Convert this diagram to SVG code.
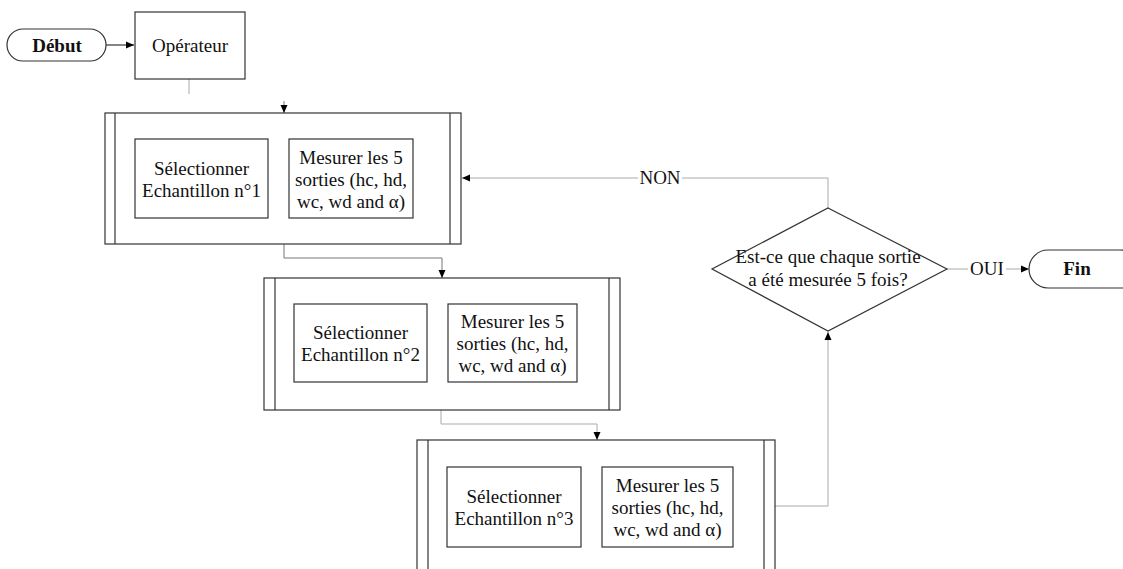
<svg xmlns="http://www.w3.org/2000/svg" width="1123" height="569" viewBox="0 0 1123 569">
<defs>
<marker id="ah" viewBox="0 0 8 8" refX="8" refY="4" markerWidth="8" markerHeight="8" markerUnits="userSpaceOnUse" orient="auto">
<path d="M0,0.5 L8,4 L0,7.5 Z" fill="#000"/>
</marker>
<style>
.box{fill:#fff;stroke:#333;stroke-width:1.2}
.ln{fill:none;stroke:#333;stroke-width:1.2}
.cn{fill:none;stroke:#aaa;stroke-width:1}
.cd{fill:none;stroke:#777;stroke-width:1}
.t{font-family:"Liberation Serif","Times New Roman",serif;font-size:19px;fill:#111;text-anchor:middle}
.b{font-weight:bold}
</style>
</defs>
<rect width="1123" height="569" fill="#fff"/>
<g id="connectors">
<line class="ln" x1="106" y1="45" x2="134" y2="45" marker-end="url(#ah)"/>
<line class="cn" x1="189" y1="79" x2="189" y2="94"/>
<line class="cd" x1="284" y1="101" x2="284" y2="113" marker-end="url(#ah)"/>
<line class="cn" x1="268" y1="179" x2="289" y2="179" marker-end="url(#ah)"/>
<polyline class="cd" points="284,244 284,258 442,258 442,278" marker-end="url(#ah)"/>
<line class="cn" x1="427" y1="344" x2="448" y2="344" marker-end="url(#ah)"/>
<polyline class="cn" points="441,410 441,424 597,424 597,440" marker-end="url(#ah)"/>
<line class="cd" x1="581" y1="507" x2="602" y2="507" marker-end="url(#ah)"/>
<polyline class="cn" points="775,506 828,506 828,332" marker-end="url(#ah)"/>
<polyline class="cn" points="828,208 828,178 682,178"/>
<line class="cn" x1="638" y1="178" x2="462" y2="178" marker-end="url(#ah)"/>
<text class="t" x="660" y="184">NON</text>
<line class="cn" x1="947" y1="269" x2="968" y2="269"/>
<line class="cn" x1="1006" y1="269" x2="1029" y2="269" marker-end="url(#ah)"/>
<text class="t" x="987" y="275">OUI</text>
</g>
<g id="debut">
<rect class="box" x="7" y="29" width="99" height="32" rx="16"/>
<text class="t b" x="57" y="52">Début</text>
</g>
<g id="operateur">
<rect class="box" x="135" y="12" width="110" height="67"/>
<text class="t" x="190" y="52">Opérateur</text>
</g>
<g id="sous-processus-1">
<rect class="box" x="105" y="113" width="356" height="131"/>
<line class="ln" x1="115" y1="113" x2="115" y2="244"/>
<line class="ln" x1="450" y1="113" x2="450" y2="244"/>
</g>
<g id="selectionner-1">
<rect class="box" x="135" y="139" width="133" height="79"/>
<text class="t" x="201.5" y="175">Sélectionner</text>
<text class="t" x="201.5" y="197">Echantillon n°1</text>
</g>
<g id="mesurer-1">
<rect class="box" x="289" y="139" width="124" height="79"/>
<text class="t" x="351" y="164">Mesurer les 5</text>
<text class="t" x="351" y="186">sorties (hc, hd,</text>
<text class="t" x="351" y="208">wc, wd and α)</text>
</g>
<g id="sous-processus-2">
<rect class="box" x="264" y="278" width="356" height="132"/>
<line class="ln" x1="275" y1="278" x2="275" y2="410"/>
<line class="ln" x1="609" y1="278" x2="609" y2="410"/>
</g>
<g id="selectionner-2">
<rect class="box" x="294" y="304" width="133" height="78"/>
<text class="t" x="360.5" y="339">Sélectionner</text>
<text class="t" x="360.5" y="361">Echantillon n°2</text>
</g>
<g id="mesurer-2">
<rect class="box" x="448" y="304" width="129" height="78"/>
<text class="t" x="512.5" y="328">Mesurer les 5</text>
<text class="t" x="512.5" y="350">sorties (hc, hd,</text>
<text class="t" x="512.5" y="372">wc, wd and α)</text>
</g>
<g id="sous-processus-3">
<rect class="box" x="417" y="440" width="358" height="150"/>
<line class="ln" x1="428" y1="440" x2="428" y2="590"/>
<line class="ln" x1="764" y1="440" x2="764" y2="590"/>
</g>
<g id="selectionner-3">
<rect class="box" x="447" y="467" width="134" height="80"/>
<text class="t" x="514" y="503">Sélectionner</text>
<text class="t" x="514" y="525">Echantillon n°3</text>
</g>
<g id="mesurer-3">
<rect class="box" x="602" y="467" width="131" height="80"/>
<text class="t" x="667.5" y="492">Mesurer les 5</text>
<text class="t" x="667.5" y="514">sorties (hc, hd,</text>
<text class="t" x="667.5" y="536">wc, wd and α)</text>
</g>
<g id="decision">
<polygon class="box" points="828,208 947,269 828,331 712,269"/>
<text class="t" x="828" y="263">Est-ce que chaque sortie</text>
<text class="t" x="828" y="286">a été mesurée 5 fois?</text>
</g>
<g id="fin">
<rect class="box" x="1029" y="250" width="110" height="38" rx="19"/>
<text class="t b" x="1077" y="275">Fin</text>
</g>
</svg>
